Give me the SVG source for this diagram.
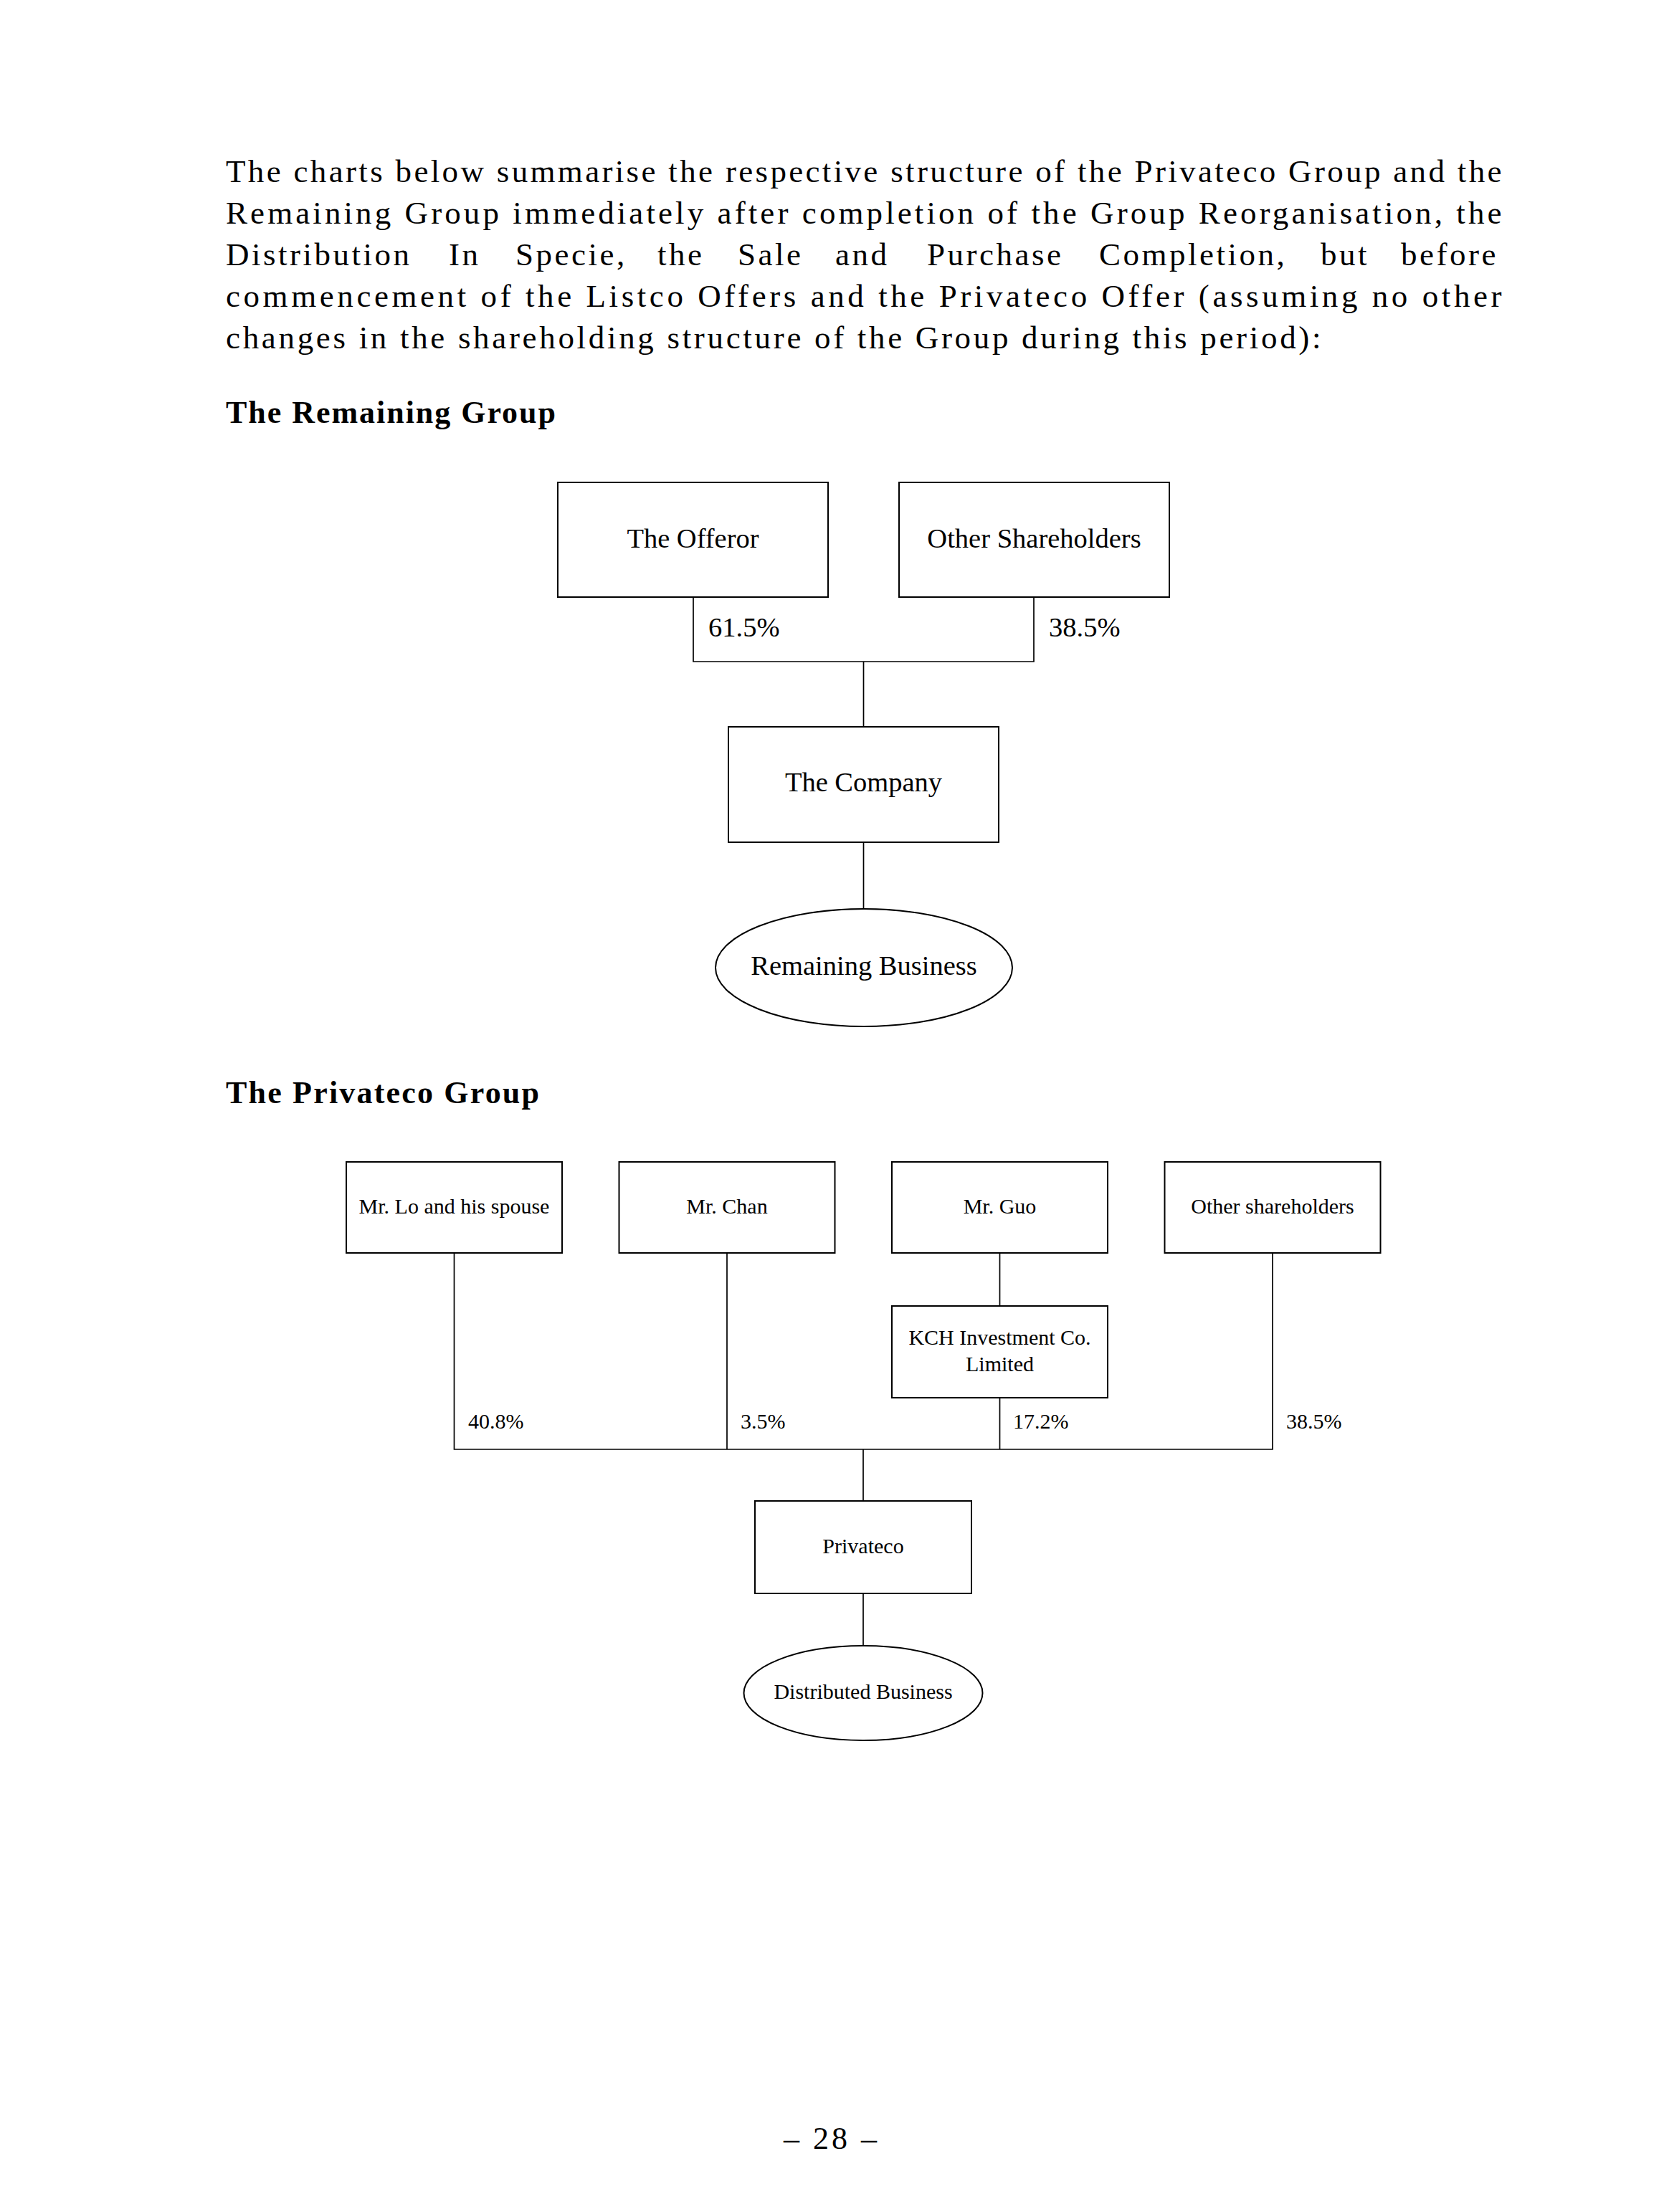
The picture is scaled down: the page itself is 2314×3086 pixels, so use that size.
<svg xmlns="http://www.w3.org/2000/svg" width="2314" height="3086" viewBox="0 0 2314 3086">
<style>
text{font-family:"Liberation Serif","Times New Roman",serif;fill:#000}
.p{font-size:45px;letter-spacing:1.5px}
.w{letter-spacing:3.5px}
.h{font-size:44px;font-weight:bold}
.t1{font-size:38.5px;text-anchor:middle}
.l1{font-size:38.5px}
.t2{font-size:30px;text-anchor:middle}
.l2{font-size:30px}
.box{fill:#fff;stroke:#000;stroke-width:2}
.ln{fill:none;stroke:#000;stroke-width:1.7}
</style>
<rect width="2314" height="3086" fill="#fff"/>
<g id="intro">
<text class="p" x="315" y="254" textLength="1781" lengthAdjust="spacing">The charts below summarise the respective structure of the Privateco Group and the</text>
<text class="p" x="315" y="312" textLength="1781" lengthAdjust="spacing">Remaining Group immediately after completion of the Group Reorganisation, the</text>
<text class="p w" y="370"><tspan x="315">Distribution</tspan><tspan x="626">In</tspan><tspan x="719">Specie,</tspan><tspan x="917">the</tspan><tspan x="1029">Sale</tspan><tspan x="1165">and</tspan><tspan x="1293">Purchase</tspan><tspan x="1533">Completion,</tspan><tspan x="1842">but</tspan><tspan x="1954">before</tspan></text>
<text class="p" x="315" y="428" textLength="1781" lengthAdjust="spacing">commencement of the Listco Offers and the Privateco Offer (assuming no other</text>
<text class="p" x="315" y="486" textLength="1529" lengthAdjust="spacing">changes in the shareholding structure of the Group during this period):</text>
<text class="h" x="315" y="590" textLength="460" lengthAdjust="spacing">The Remaining Group</text>
<text class="h" x="315" y="1539" textLength="437" lengthAdjust="spacing">The Privateco Group</text>
<text x="1093" y="2998" style="font-size:44px" textLength="130" lengthAdjust="spacing">– 28 –</text>
</g>
<g id="connectors">
<path class="ln" d="M967 833V923H1442V833M1204.5 923V1014M1204.5 1175V1267"/>
<path class="ln" d="M633.5 1748V2022H1775V1748M1014 1748V2022M1394.5 1748V1822M1394.5 1950V2022M1204 2022V2094M1204 2223V2296"/>
</g>
<g id="lbl-615"><text class="l1" x="988" y="888">61.5%</text></g>
<g id="lbl-385a"><text class="l1" x="1463" y="888">38.5%</text></g>
<g id="offeror"><rect class="box" x="778" y="673" width="377" height="160"/><text class="t1" x="966.5" y="764">The Offeror</text></g>
<g id="other-shareholders"><rect class="box" x="1254" y="673" width="377" height="160"/><text class="t1" x="1442.5" y="764">Other Shareholders</text></g>
<g id="company"><rect class="box" x="1016" y="1014" width="377" height="161"/><text class="t1" x="1204.5" y="1104">The Company</text></g>
<g id="remaining-business"><ellipse class="box" cx="1205" cy="1350" rx="207" ry="82"/><text class="t1" x="1205" y="1360">Remaining Business</text></g>
<g id="mr-lo"><rect class="box" x="483" y="1621" width="301" height="127"/><text class="t2" x="633.5" y="1693">Mr. Lo and his spouse</text></g>
<g id="mr-chan"><rect class="box" x="863.5" y="1621" width="301" height="127"/><text class="t2" x="1014" y="1693">Mr. Chan</text></g>
<g id="mr-guo"><rect class="box" x="1244" y="1621" width="301" height="127"/><text class="t2" x="1394.5" y="1693">Mr. Guo</text></g>
<g id="other-sh"><rect class="box" x="1624.5" y="1621" width="301" height="127"/><text class="t2" x="1775" y="1693">Other shareholders</text></g>
<g id="kch"><rect class="box" x="1244" y="1822" width="301" height="128"/><text class="t2" x="1394.5" y="1876">KCH Investment Co.</text><text class="t2" x="1394.5" y="1913">Limited</text></g>
<g id="pct-lo"><text class="l2" x="653" y="1993">40.8%</text></g>
<g id="pct-chan"><text class="l2" x="1033" y="1993">3.5%</text></g>
<g id="pct-kch"><text class="l2" x="1413" y="1993">17.2%</text></g>
<g id="pct-other"><text class="l2" x="1794" y="1993">38.5%</text></g>
<g id="privateco"><rect class="box" x="1053" y="2094" width="302" height="129"/><text class="t2" x="1204" y="2167">Privateco</text></g>
<g id="distributed-business"><ellipse class="box" cx="1204" cy="2362" rx="166.5" ry="66"/><text class="t2" x="1204" y="2370">Distributed Business</text></g>
</svg>
